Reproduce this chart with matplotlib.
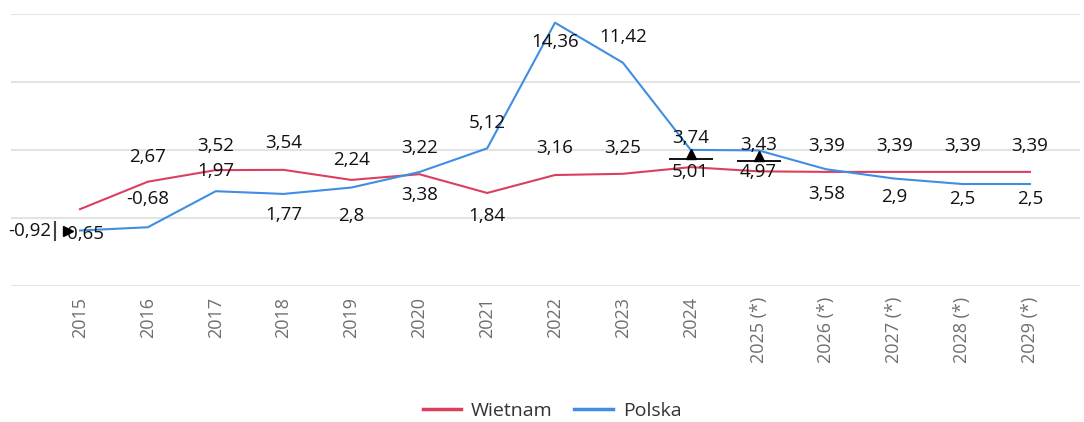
import matplotlib
matplotlib.use("Agg")
import matplotlib.pyplot as plt
from matplotlib.transforms import offset_copy

plt.rcParams['font.family'] = ['Open Sans', 'DejaVu Sans']

years = ["2015", "2016", "2017", "2018", "2019", "2020", "2021", "2022",
         "2023", "2024", "2025 (*)", "2026 (*)", "2027 (*)", "2028 (*)", "2029 (*)"]
wietnam = [0.65, 2.67, 3.52, 3.54, 2.8, 3.22, 1.84, 3.16, 3.25, 3.74, 3.43, 3.39, 3.39, 3.39, 3.39]
polska = [-0.92, -0.68, 1.97, 1.77, 2.24, 3.38, 5.12, 14.36, 11.42, 5.01, 4.97, 3.58, 2.9, 2.5, 2.5]

# label offsets in pixels (dx, dy downwards positive)
w_off = [(5, 25), (0, -25), (0, -24), (0, -27), (0, 36), (0, -26), (0, 23), (0, -27),
         (0, -26), (0, -29), (0, -26), (0, -26), (0, -26), (0, -26), (0, -26)]
p_off = [(-50, 0), (0, -28), (0, -20), (0, 21), (0, -28), (0, 23), (0, -25), (0, 19),
         (0, -26), (0, 22), (0, 22), (0, 25), (0, 18), (0, 15), (0, 15)]

RED = "#DC3F5E"
BLUE = "#3F8EE4"

W, H = 1084, 422
fig = plt.figure(figsize=(W / 100, H / 100), dpi=100)
ax = fig.add_axes([11 / W, (H - 286) / H, (1080 - 11) / W, 272 / H])

x = list(range(len(years)))
ax.plot(x, wietnam, color=RED, lw=1.5, label="Wietnam", zorder=3)
ax.plot(x, polska, color=BLUE, lw=1.5, label="Polska", zorder=3)

ax.set_ylim(-5, 15)
ax.set_xlim(-1.017, 14.737)
ax.set_yticks([-5, 0, 5, 10, 15])
ax.grid(axis='y', color='#E3E3E3', lw=1.5)
ax.set_axisbelow(True)
for s in ax.spines.values():
    s.set_visible(False)
ax.tick_params(axis='y', left=False, labelleft=False)
ax.tick_params(axis='x', length=0, pad=8, labelcolor='#6E6E6E', labelsize=13)
ax.set_xticks(x)
ax.set_xticklabels(years, rotation=90, va='top', ha='center')

def fmt(v):
    s = ("%.2f" % v).rstrip('0').rstrip('.')
    return s.replace('.', ',')

px2pt = 0.72
for series, offs in ((wietnam, w_off), (polska, p_off)):
    for xi, v, (dx, dy) in zip(x, series, offs):
        ax.annotate(fmt(v), (xi, v), xytext=(dx * px2pt, -dy * px2pt),
                    textcoords='offset points', ha='center', va='center',
                    fontsize=13.5, color='#111111', zorder=5)

# small black cursor-like markers seen in the reference
ax.plot([0], [polska[0]], marker='|', color='#444444', ms=14, mew=1.5,
        transform=offset_copy(ax.transData, fig=fig, x=-25, y=0, units='dots'), zorder=6)
ax.plot([0], [polska[0]], marker='>', color='black', ms=7,
        transform=offset_copy(ax.transData, fig=fig, x=-12, y=0, units='dots'), zorder=6)
for xi in (9, 10):
    mid = (wietnam[xi] + polska[xi]) / 2
    ax.plot([xi], [mid], marker='_', color='black', ms=32, mew=1.3, zorder=6)
    ax.plot([xi], [mid], marker='^', color='black', ms=7,
            transform=offset_copy(ax.transData, fig=fig, x=0, y=5, units='dots'), zorder=6)

leg = fig.legend(loc='center', bbox_to_anchor=(552 / W, 1 - 411 / H), ncol=2, frameon=False,
                 fontsize=14, handlelength=2.0, columnspacing=1.1, handletextpad=0.5)
for line in leg.get_lines():
    line.set_linewidth(2.5)
for t in leg.get_texts():
    t.set_color('#333333')

fig.savefig("out.png", dpi=100)
